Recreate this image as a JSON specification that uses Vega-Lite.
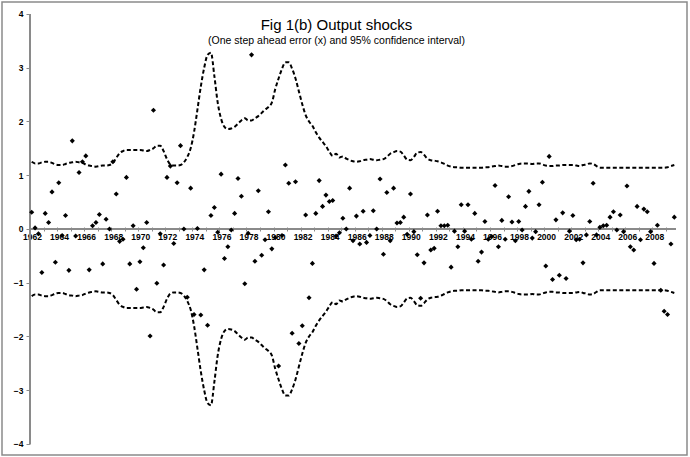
{
  "$schema": "https://vega.github.io/schema/vega-lite/v6.json",
  "width": 685,
  "height": 453,
  "autosize": "none",
  "padding": {"left": 2, "top": 2, "right": 3, "bottom": 2},
  "background": "white",
  "config": {
    "view": {"stroke": "#8a8a8a", "strokeWidth": 1.5},
    "font": "Liberation Sans"
  },
  "title": {
    "text": "Fig 1(b) Output shocks",
    "subtitle": "(One step ahead error (x) and 95% confidence interval)",
    "font": "Liberation Sans",
    "fontSize": 15,
    "fontWeight": "normal",
    "color": "#000000",
    "subtitleFont": "Liberation Sans",
    "subtitleFontSize": 10.5,
    "subtitleColor": "#000000",
    "subtitlePadding": 3,
    "anchor": "middle",
    "frame": "group",
    "offset": -44,
    "dx": -8
  },
  "resolve": {"axis": {"x": "independent", "y": "independent"}},
  "data": {
    "values": [
      {"t":1962.125,"e":0.31,"u":1.25,"l":-1.25},{"t":1962.375,"e":0.02,"u":1.22,"l":-1.22},{"t":1962.625,"e":-0.09,"u":1.22,"l":-1.22},{"t":1962.875,"e":-0.81,"u":1.24,"l":-1.24},
      {"t":1963.125,"e":0.29,"u":1.25,"l":-1.25},{"t":1963.375,"e":0.12,"u":1.25,"l":-1.25},{"t":1963.625,"e":0.69,"u":1.23,"l":-1.23},{"t":1963.875,"e":-0.62,"u":1.2,"l":-1.2},
      {"t":1964.125,"e":0.86,"u":1.19,"l":-1.19},{"t":1964.375,"e":-0.12,"u":1.19,"l":-1.19},{"t":1964.625,"e":0.25,"u":1.21,"l":-1.21},{"t":1964.875,"e":-0.77,"u":1.23,"l":-1.23},
      {"t":1965.125,"e":1.64,"u":1.24,"l":-1.24},{"t":1965.375,"e":-0.13,"u":1.25,"l":-1.25},{"t":1965.625,"e":1.05,"u":1.24,"l":-1.24},{"t":1965.875,"e":1.25,"u":1.23,"l":-1.23},
      {"t":1966.125,"e":1.36,"u":1.2,"l":-1.2},{"t":1966.375,"e":-0.76,"u":1.18,"l":-1.18},{"t":1966.625,"e":0.06,"u":1.17,"l":-1.17},{"t":1966.875,"e":0.12,"u":1.16,"l":-1.16},
      {"t":1967.125,"e":0.27,"u":1.17,"l":-1.17},{"t":1967.375,"e":-0.65,"u":1.18,"l":-1.18},{"t":1967.625,"e":0.18,"u":1.18,"l":-1.18},{"t":1967.875,"e":0.0,"u":1.19,"l":-1.19},
      {"t":1968.125,"e":1.25,"u":1.23,"l":-1.23},{"t":1968.375,"e":0.65,"u":1.32,"l":-1.32},{"t":1968.625,"e":-0.23,"u":1.41,"l":-1.41},{"t":1968.875,"e":-0.19,"u":1.45,"l":-1.45},
      {"t":1969.125,"e":0.96,"u":1.47,"l":-1.47},{"t":1969.375,"e":-0.65,"u":1.47,"l":-1.47},{"t":1969.625,"e":0.06,"u":1.47,"l":-1.47},{"t":1969.875,"e":-1.12,"u":1.47,"l":-1.47},
      {"t":1970.125,"e":-0.61,"u":1.47,"l":-1.47},{"t":1970.375,"e":-0.35,"u":1.46,"l":-1.46},{"t":1970.625,"e":0.12,"u":1.45,"l":-1.45},{"t":1970.875,"e":-1.99,"u":1.47,"l":-1.47},
      {"t":1971.125,"e":2.21,"u":1.5,"l":-1.5},{"t":1971.375,"e":-1.01,"u":1.55,"l":-1.55},{"t":1971.625,"e":-0.09,"u":1.55,"l":-1.55},{"t":1971.875,"e":-0.67,"u":1.45,"l":-1.45},
      {"t":1972.125,"e":0.96,"u":1.3,"l":-1.3},{"t":1972.375,"e":1.17,"u":1.2,"l":-1.2},{"t":1972.625,"e":-0.27,"u":1.18,"l":-1.18},{"t":1972.875,"e":0.86,"u":1.18,"l":-1.18},
      {"t":1973.125,"e":1.55,"u":1.19,"l":-1.19},{"t":1973.375,"e":0.0,"u":1.24,"l":-1.24},{"t":1973.625,"e":-1.27,"u":1.34,"l":-1.34},{"t":1973.875,"e":0.76,"u":1.5,"l":-1.5},
      {"t":1974.125,"e":-1.59,"u":1.8,"l":-1.8},{"t":1974.375,"e":0.01,"u":2.22,"l":-2.22},{"t":1974.625,"e":-1.6,"u":2.65,"l":-2.65},{"t":1974.875,"e":-0.76,"u":3.0,"l":-3.0},
      {"t":1975.125,"e":-1.79,"u":3.24,"l":-3.24},{"t":1975.375,"e":0.25,"u":3.28,"l":-3.28},{"t":1975.625,"e":0.4,"u":2.85,"l":-2.85},{"t":1975.875,"e":-0.06,"u":2.35,"l":-2.35},
      {"t":1976.125,"e":1.02,"u":2.05,"l":-2.05},{"t":1976.375,"e":-0.55,"u":1.9,"l":-1.9},{"t":1976.625,"e":-0.33,"u":1.86,"l":-1.86},{"t":1976.875,"e":-0.02,"u":1.87,"l":-1.87},
      {"t":1977.125,"e":0.29,"u":1.9,"l":-1.9},{"t":1977.375,"e":0.94,"u":1.96,"l":-1.96},{"t":1977.625,"e":0.61,"u":2.02,"l":-2.02},{"t":1977.875,"e":-1.02,"u":2.06,"l":-2.06},
      {"t":1978.125,"e":-0.08,"u":2.02,"l":-2.02},{"t":1978.375,"e":3.24,"u":2.02,"l":-2.02},{"t":1978.625,"e":-0.6,"u":2.06,"l":-2.06},{"t":1978.875,"e":0.71,"u":2.1,"l":-2.1},
      {"t":1979.125,"e":-0.49,"u":2.16,"l":-2.16},{"t":1979.375,"e":-0.2,"u":2.22,"l":-2.22},{"t":1979.625,"e":0.32,"u":2.27,"l":-2.27},{"t":1979.875,"e":-0.37,"u":2.35,"l":-2.35},
      {"t":1980.125,"e":-0.16,"u":2.6,"l":-2.6},{"t":1980.375,"e":-2.55,"u":2.8,"l":-2.8},{"t":1980.625,"e":-0.12,"u":2.98,"l":-2.98},{"t":1980.875,"e":1.19,"u":3.1,"l":-3.1},
      {"t":1981.125,"e":0.85,"u":3.1,"l":-3.1},{"t":1981.375,"e":-1.94,"u":2.98,"l":-2.98},{"t":1981.625,"e":0.88,"u":2.8,"l":-2.8},{"t":1981.875,"e":-2.13,"u":2.56,"l":-2.56},
      {"t":1982.125,"e":-1.8,"u":2.32,"l":-2.32},{"t":1982.375,"e":0.26,"u":2.12,"l":-2.12},{"t":1982.625,"e":-1.28,"u":2.0,"l":-2.0},{"t":1982.875,"e":-0.64,"u":1.92,"l":-1.92},
      {"t":1983.125,"e":0.29,"u":1.8,"l":-1.8},{"t":1983.375,"e":0.9,"u":1.7,"l":-1.7},{"t":1983.625,"e":0.42,"u":1.62,"l":-1.62},{"t":1983.875,"e":0.63,"u":1.54,"l":-1.54},
      {"t":1984.125,"e":0.51,"u":1.44,"l":-1.44},{"t":1984.375,"e":0.53,"u":1.36,"l":-1.36},{"t":1984.625,"e":-0.13,"u":1.4,"l":-1.4},{"t":1984.875,"e":-0.07,"u":1.33,"l":-1.33},
      {"t":1985.125,"e":0.2,"u":1.35,"l":-1.35},{"t":1985.375,"e":0.0,"u":1.31,"l":-1.31},{"t":1985.625,"e":0.76,"u":1.28,"l":-1.28},{"t":1985.875,"e":-0.22,"u":1.26,"l":-1.26},
      {"t":1986.125,"e":0.24,"u":1.25,"l":-1.25},{"t":1986.375,"e":-0.28,"u":1.26,"l":-1.26},{"t":1986.625,"e":0.33,"u":1.28,"l":-1.28},{"t":1986.875,"e":-0.25,"u":1.29,"l":-1.29},
      {"t":1987.125,"e":-0.12,"u":1.3,"l":-1.3},{"t":1987.375,"e":0.34,"u":1.29,"l":-1.29},{"t":1987.625,"e":0.0,"u":1.28,"l":-1.28},{"t":1987.875,"e":0.93,"u":1.29,"l":-1.29},
      {"t":1988.125,"e":-0.47,"u":1.3,"l":-1.3},{"t":1988.375,"e":0.68,"u":1.34,"l":-1.34},{"t":1988.625,"e":-0.22,"u":1.4,"l":-1.4},{"t":1988.875,"e":0.76,"u":1.43,"l":-1.43},
      {"t":1989.125,"e":0.11,"u":1.45,"l":-1.45},{"t":1989.375,"e":0.12,"u":1.44,"l":-1.44},{"t":1989.625,"e":0.22,"u":1.37,"l":-1.37},{"t":1989.875,"e":-0.1,"u":1.29,"l":-1.29},
      {"t":1990.125,"e":0.65,"u":1.28,"l":-1.28},{"t":1990.375,"e":-0.05,"u":1.34,"l":-1.34},{"t":1990.625,"e":-0.48,"u":1.42,"l":-1.42},{"t":1990.875,"e":-1.29,"u":1.43,"l":-1.43},
      {"t":1991.125,"e":-0.63,"u":1.38,"l":-1.38},{"t":1991.375,"e":0.26,"u":1.31,"l":-1.31},{"t":1991.625,"e":-0.39,"u":1.28,"l":-1.28},{"t":1991.875,"e":-0.36,"u":1.27,"l":-1.27},
      {"t":1992.125,"e":0.33,"u":1.26,"l":-1.26},{"t":1992.375,"e":0.06,"u":1.24,"l":-1.24},{"t":1992.625,"e":0.06,"u":1.21,"l":-1.21},{"t":1992.875,"e":0.07,"u":1.18,"l":-1.18},
      {"t":1993.125,"e":-0.71,"u":1.16,"l":-1.16},{"t":1993.375,"e":-0.04,"u":1.15,"l":-1.15},{"t":1993.625,"e":-0.33,"u":1.15,"l":-1.15},{"t":1993.875,"e":0.45,"u":1.14,"l":-1.14},
      {"t":1994.125,"e":-0.04,"u":1.14,"l":-1.14},{"t":1994.375,"e":0.45,"u":1.14,"l":-1.14},{"t":1994.625,"e":-0.19,"u":1.14,"l":-1.14},{"t":1994.875,"e":0.29,"u":1.14,"l":-1.14},
      {"t":1995.125,"e":-0.6,"u":1.14,"l":-1.14},{"t":1995.375,"e":-0.43,"u":1.14,"l":-1.14},{"t":1995.625,"e":0.14,"u":1.15,"l":-1.15},{"t":1995.875,"e":-0.19,"u":1.15,"l":-1.15},
      {"t":1996.125,"e":-0.14,"u":1.16,"l":-1.16},{"t":1996.375,"e":0.81,"u":1.17,"l":-1.17},{"t":1996.625,"e":-0.33,"u":1.18,"l":-1.18},{"t":1996.875,"e":0.16,"u":1.17,"l":-1.17},
      {"t":1997.125,"e":-0.19,"u":1.16,"l":-1.16},{"t":1997.375,"e":0.6,"u":1.16,"l":-1.16},{"t":1997.625,"e":0.13,"u":1.17,"l":-1.17},{"t":1997.875,"e":-0.22,"u":1.19,"l":-1.19},
      {"t":1998.125,"e":0.14,"u":1.21,"l":-1.21},{"t":1998.375,"e":-0.02,"u":1.22,"l":-1.22},{"t":1998.625,"e":0.42,"u":1.22,"l":-1.22},{"t":1998.875,"e":0.7,"u":1.22,"l":-1.22},
      {"t":1999.125,"e":-0.17,"u":1.21,"l":-1.21},{"t":1999.375,"e":-0.05,"u":1.22,"l":-1.22},{"t":1999.625,"e":0.45,"u":1.22,"l":-1.22},{"t":1999.875,"e":0.87,"u":1.2,"l":-1.2},
      {"t":2000.125,"e":-0.69,"u":1.18,"l":-1.18},{"t":2000.375,"e":1.35,"u":1.17,"l":-1.17},{"t":2000.625,"e":-0.94,"u":1.17,"l":-1.17},{"t":2000.875,"e":0.17,"u":1.18,"l":-1.18},
      {"t":2001.125,"e":-0.86,"u":1.18,"l":-1.18},{"t":2001.375,"e":0.3,"u":1.19,"l":-1.19},{"t":2001.625,"e":-0.92,"u":1.19,"l":-1.19},{"t":2001.875,"e":-0.04,"u":1.19,"l":-1.19},
      {"t":2002.125,"e":0.25,"u":1.19,"l":-1.19},{"t":2002.375,"e":-0.2,"u":1.18,"l":-1.18},{"t":2002.625,"e":-0.19,"u":1.17,"l":-1.17},{"t":2002.875,"e":-0.63,"u":1.19,"l":-1.19},
      {"t":2003.125,"e":-0.11,"u":1.2,"l":-1.2},{"t":2003.375,"e":0.14,"u":1.22,"l":-1.22},{"t":2003.625,"e":0.85,"u":1.21,"l":-1.21},{"t":2003.875,"e":-0.11,"u":1.17,"l":-1.17},
      {"t":2004.125,"e":0.03,"u":1.14,"l":-1.14},{"t":2004.375,"e":0.06,"u":1.14,"l":-1.14},{"t":2004.625,"e":0.07,"u":1.14,"l":-1.14},{"t":2004.875,"e":0.22,"u":1.14,"l":-1.14},
      {"t":2005.125,"e":0.32,"u":1.14,"l":-1.14},{"t":2005.375,"e":-0.02,"u":1.14,"l":-1.14},{"t":2005.625,"e":0.26,"u":1.14,"l":-1.14},{"t":2005.875,"e":-0.05,"u":1.14,"l":-1.14},
      {"t":2006.125,"e":0.8,"u":1.14,"l":-1.14},{"t":2006.375,"e":-0.33,"u":1.14,"l":-1.14},{"t":2006.625,"e":-0.39,"u":1.14,"l":-1.14},{"t":2006.875,"e":0.42,"u":1.14,"l":-1.14},
      {"t":2007.125,"e":-0.2,"u":1.14,"l":-1.14},{"t":2007.375,"e":0.37,"u":1.14,"l":-1.14},{"t":2007.625,"e":0.32,"u":1.14,"l":-1.14},{"t":2007.875,"e":-0.05,"u":1.14,"l":-1.14},
      {"t":2008.125,"e":-0.64,"u":1.14,"l":-1.14},{"t":2008.375,"e":0.07,"u":1.14,"l":-1.14},{"t":2008.625,"e":-1.14,"u":1.14,"l":-1.14},{"t":2008.875,"e":-1.53,"u":1.14,"l":-1.14},
      {"t":2009.125,"e":-1.59,"u":1.15,"l":-1.15},{"t":2009.375,"e":-0.28,"u":1.17,"l":-1.17},{"t":2009.625,"e":0.22,"u":1.19,"l":-1.19}
    ]
  },
  "layer": [
    {
      "mark": {"type": "rule", "color": "#8a8a8a", "strokeWidth": 1.2},
      "encoding": {
        "x": {"datum": 1962, "type": "quantitative", "axis": null, "scale": {"domain": [1959.93, 2010.563], "nice": false, "zero": false}},
        "y": {"datum": -4, "type": "quantitative", "axis": null, "scale": {"domain": [-4.205, 4.223], "nice": false, "zero": false}},
        "y2": {"datum": 4}
      }
    },
    {
      "mark": {"type": "rule", "color": "#8a8a8a", "strokeWidth": 2},
      "encoding": {
        "x": {"datum": 1962, "type": "quantitative", "axis": null},
        "x2": {"datum": 2009.75},
        "y": {"datum": 0, "type": "quantitative", "axis": null}
      }
    },
    {
      "mark": {"type": "line", "color": "#000000", "strokeWidth": 2, "strokeDash": [4, 2.5], "interpolate": "monotone"},
      "encoding": {
        "x": {"field": "t", "type": "quantitative", "axis": null},
        "y": {"field": "u", "type": "quantitative", "axis": null}
      }
    },
    {
      "mark": {"type": "line", "color": "#000000", "strokeWidth": 2, "strokeDash": [4, 2.5], "interpolate": "monotone"},
      "encoding": {
        "x": {"field": "t", "type": "quantitative", "axis": null},
        "y": {"field": "l", "type": "quantitative", "axis": null}
      }
    },
    {
      "mark": {"type": "point", "shape": "diamond", "filled": true, "color": "#000000", "size": 26, "opacity": 1},
      "encoding": {
        "x": {
          "field": "t",
          "type": "quantitative",
          "scale": {"domain": [1959.93, 2010.563], "nice": false, "zero": false},
          "axis": {
            "title": null,
            "grid": false,
            "domain": false,
            "offset": -228,
            "values": [1962,1962.25,1962.5,1962.75,1963,1963.25,1963.5,1963.75,1964,1964.25,1964.5,1964.75,1965,1965.25,1965.5,1965.75,1966,1966.25,1966.5,1966.75,1967,1967.25,1967.5,1967.75,1968,1968.25,1968.5,1968.75,1969,1969.25,1969.5,1969.75,1970,1970.25,1970.5,1970.75,1971,1971.25,1971.5,1971.75,1972,1972.25,1972.5,1972.75,1973,1973.25,1973.5,1973.75,1974,1974.25,1974.5,1974.75,1975,1975.25,1975.5,1975.75,1976,1976.25,1976.5,1976.75,1977,1977.25,1977.5,1977.75,1978,1978.25,1978.5,1978.75,1979,1979.25,1979.5,1979.75,1980,1980.25,1980.5,1980.75,1981,1981.25,1981.5,1981.75,1982,1982.25,1982.5,1982.75,1983,1983.25,1983.5,1983.75,1984,1984.25,1984.5,1984.75,1985,1985.25,1985.5,1985.75,1986,1986.25,1986.5,1986.75,1987,1987.25,1987.5,1987.75,1988,1988.25,1988.5,1988.75,1989,1989.25,1989.5,1989.75,1990,1990.25,1990.5,1990.75,1991,1991.25,1991.5,1991.75,1992,1992.25,1992.5,1992.75,1993,1993.25,1993.5,1993.75,1994,1994.25,1994.5,1994.75,1995,1995.25,1995.5,1995.75,1996,1996.25,1996.5,1996.75,1997,1997.25,1997.5,1997.75,1998,1998.25,1998.5,1998.75,1999,1999.25,1999.5,1999.75,2000,2000.25,2000.5,2000.75,2001,2001.25,2001.5,2001.75,2002,2002.25,2002.5,2002.75,2003,2003.25,2003.5,2003.75,2004,2004.25,2004.5,2004.75,2005,2005.25,2005.5,2005.75,2006,2006.25,2006.5,2006.75,2007,2007.25,2007.5,2007.75,2008,2008.25,2008.5,2008.75,2009,2009.25,2009.5,2009.75],
            "format": "d",
            "labelExpr": "datum.value % 2 == 0 ? datum.label : ''",
            "labelOverlap": false,
            "labelBound": false,
            "labelFlush": false,
            "labelOffset": 2,
            "labelPadding": 1,
            "labelFont": "Liberation Sans",
            "labelFontWeight": "bold",
            "labelFontSize": 8.5,
            "labelColor": "#000000",
            "tickSize": 4,
            "tickWidth": 1,
            "tickColor": "#8a8a8a"
          }
        },
        "y": {
          "field": "e",
          "type": "quantitative",
          "scale": {"domain": [-4.205, 4.223], "nice": false, "zero": false},
          "axis": {
            "title": null,
            "grid": false,
            "domain": false,
            "offset": -28,
            "values": [-4, -3, -2, -1, 0, 1, 2, 3, 4],
            "tickSize": 4,
            "tickWidth": 1,
            "tickColor": "#8a8a8a",
            "labelFont": "Liberation Sans",
            "labelFontWeight": "bold",
            "labelFontSize": 8.5,
            "labelColor": "#000000",
            "labelPadding": 3
          }
        }
      }
    }
  ]
}
